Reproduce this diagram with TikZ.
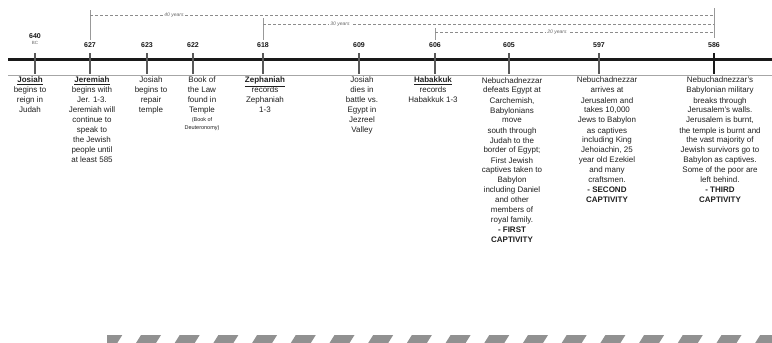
\documentclass[tikz,border=0pt]{standalone}
\usepackage{fontspec}
\setmainfont{Liberation Sans}
\begin{document}
\begin{tikzpicture}[x=1pt,y=-1pt,
  ev/.style={anchor=north, align=center, font=\fontsize{8}{10}\selectfont, text=black!88, inner sep=0pt},
  yr/.style={font=\fontsize{7}{8}\bfseries\selectfont, inner sep=0pt, text=black!90},
  tickline/.style={draw=black!65, line width=1.3pt},
  spanline/.style={draw=black!45, line width=0.5pt, dash pattern=on 3pt off 2pt},
  spanvert/.style={draw=black!40, line width=0.5pt},
  spanlbl/.style={font=\fontsize{5}{6}\itshape\selectfont, fill=white, inner sep=1pt, text=black!60},
  stripe/.style={fill=black!43}]
\useasboundingbox (0,0) rectangle (772,343);

% main timeline
\coordinate (L) at (8,59.5);
\coordinate (R) at (772,59.5);
\draw[line width=2.4pt, black!90] (L) -- (R);
\coordinate (GL) at (8,75);
\coordinate (GR) at (772,75);
\draw[line width=0.5pt, black!35] (GL) -- (GR);

% ticks and years
\foreach \n/\x in {640/35, 627/90, 623/147, 622/193, 618/263, 609/359, 606/435, 605/509, 597/599} {
  \coordinate (t\n) at (\x,59.5);
  \draw[tickline] (\x,53) -- (\x,74);
}
\coordinate (t586) at (714,59.5);
\draw[tickline, draw=black!90] (714,53) -- (714,74);

\node[yr] (y640) at (35,36) {640};
\node[font=\fontsize{4.5}{5}\selectfont, inner sep=0pt, text=black!60] (bc) at (35,43) {BC};
\foreach \n/\x in {627/90, 623/147, 622/193, 618/263, 609/359, 606/435, 605/509, 597/599, 586/714} {
  \node[yr] (y\n) at (\x,45) {\n};
}

% spans
\coordinate (a40) at (90,15);  \coordinate (b40) at (714,15);
\coordinate (a30) at (263,24); \coordinate (b30) at (714,24);
\coordinate (a20) at (435,32); \coordinate (b20) at (714,32);
\draw[spanvert] (90,10) -- (90,40);
\draw[spanvert] (263,18) -- (263,40);
\draw[spanvert] (435,28) -- (435,40);
\draw[spanvert] (714,8) -- (714,38);
\draw[spanline] (a40) -- (b40);
\draw[spanline] (a30) -- (b30);
\draw[spanline] (a20) -- (b20);
\node[spanlbl] (l40) at (174,15) {40 years};
\node[spanlbl] (l30) at (340,24) {30 years};
\node[spanlbl] (l20) at (557,32) {20 years};

% events
\node[ev] (e640) at (30,77) {\underline{\textbf{Josiah}}\\begins to\\reign in\\Judah};
\node[ev] (e627) at (92,77) {\underline{\textbf{Jeremiah}}\\begins with\\Jer. 1-3.\\Jeremiah will\\continue to\\speak to\\the Jewish\\people until\\at least 585};
\node[ev] (e623) at (151,77) {Josiah\\begins to\\repair\\temple};
\node[ev] (e622) at (202,77) {Book of\\the Law\\found in\\Temple\\[-1pt]{\fontsize{5.5}{6.5}\selectfont (Book of}\\[-2.5pt]{\fontsize{5.5}{6.5}\selectfont Deuteronomy)}};
\node[ev] (e618) at (265,77) {\underline{\textbf{Zephaniah}}\\records\\Zephaniah\\1-3};
\node[ev] (e609) at (362,77) {Josiah\\dies in\\battle vs.\\Egypt in\\Jezreel\\Valley};
\node[ev] (e606) at (433,77) {\underline{\textbf{Habakkuk}}\\records\\Habakkuk 1-3};
\node[ev] (e605) at (512,77) {Nebuchadnezzar\\defeats Egypt at\\Carchemish,\\Babylonians\\move\\south through\\Judah to the\\border of Egypt;\\First Jewish\\captives taken to\\Babylon\\including Daniel\\and other\\members of\\royal family.\\\textbf{- FIRST}\\\textbf{CAPTIVITY}};
\node[ev] (e597) at (607,77) {Nebuchadnezzar\\arrives at\\Jerusalem and\\takes 10,000\\Jews to Babylon\\as captives\\including King\\Jehoiachin, 25\\year old Ezekiel\\and many\\craftsmen.\\\textbf{- SECOND}\\\textbf{CAPTIVITY}};
\node[ev] (e586) at (720,77) {Nebuchadnezzar's\\Babylonian military\\breaks through\\Jerusalem's walls.\\Jerusalem is burnt,\\the temple is burnt and\\the vast majority of\\Jewish survivors go to\\Babylon as captives.\\Some of the poor are\\left behind.\\\textbf{- THIRD}\\\textbf{CAPTIVITY}};

% bottom stripes
\begin{scope}
\clip (107,330) rectangle (772,343);
\foreach \i in {-1,...,17} {
  \fill[stripe] ({136+38.7*\i},343) -- ++(20,0) -- ++(5,-8) -- ++(-20,0) -- cycle;
}
\end{scope}
\end{tikzpicture}
\end{document}
